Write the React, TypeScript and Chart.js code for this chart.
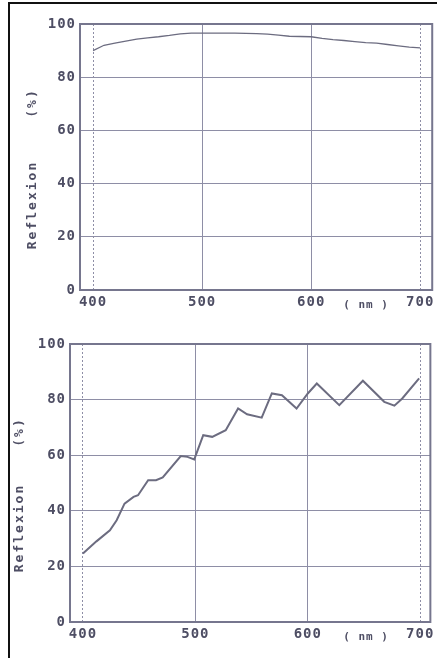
import React, { useEffect, useRef } from "react";
import { Chart, registerables } from "chart.js";

Chart.register(...registerables);

// ---- Data ----
const topWavelengths = [400, 410, 420, 430, 440, 450, 460, 470, 480, 490, 500, 510, 520, 530, 540, 550, 560, 570, 580, 590, 600, 610, 620, 630, 640, 650, 660, 670, 680, 690, 700];
const topReflexion = [90, 92, 92.8, 93.6, 94.3, 94.8, 95.2, 95.7, 96.3, 96.6, 96.6, 96.6, 96.6, 96.6, 96.5, 96.4, 96.2, 95.8, 95.4, 95.3, 95.2, 94.6, 94.1, 93.8, 93.4, 93.0, 92.8, 92.3, 91.8, 91.3, 91.0];

const bottomWavelengths = [400, 412, 424, 430, 437, 445, 449, 458, 465, 471, 487, 493, 499, 507, 515, 527, 538, 546, 559, 568, 577, 590, 600, 608, 628, 649, 668, 677, 684, 699];
const bottomReflexion = [24.6, 29, 33, 36.6, 42.6, 45, 45.6, 51, 51, 52, 59.7, 59.4, 58.5, 67.2, 66.6, 69, 76.8, 74.7, 73.5, 82.2, 81.6, 76.8, 82.2, 85.8, 78, 86.8, 79.2, 77.8, 80.4, 87.6];

const xTicks = [400, 500, 600, 700];
const yTicks = [0, 20, 40, 60, 80, 100];
const yTitle = "Reflexion";
const yUnit = "(%)";
const xUnit = "(nm)";

const TEXT = "#4e4e64";
const GRID = "#8e8ea6";
const FONT = "'DejaVu Sans Mono', monospace";

type Cfg = {
  top: number;
  height: number;
  left: number;
  plotTop: number;
  plotBottom: number;
  xs: number[];
  ys: number[];
  xMin: number;
  xMax: number;
  lineWidth: number;
  titleX: number;
  unitY: number;
  titleY: number;
};

function Panel({ cfg }: { cfg: Cfg }) {
  const ref = useRef<HTMLCanvasElement>(null);
  useEffect(() => {
    const canvas = ref.current!;
    const textPlugin = {
      id: "extraText",
      beforeDraw(chart: any) {
        (chart.ctx as any).letterSpacing = "1px";
      },
      afterDraw(chart: any) {
        const ctx = chart.ctx as CanvasRenderingContext2D;
        const a = chart.chartArea;
        ctx.save();
        // frame
        ctx.strokeStyle = "#76768e";
        ctx.lineWidth = 2;
        ctx.strokeRect(a.left, a.top, a.right - a.left, a.bottom - a.top);
        // y title
        ctx.fillStyle = TEXT;
        ctx.font = `bold 13px ${FONT}`;
        (ctx as any).letterSpacing = "2px";
        ctx.textAlign = "center";
        ctx.textBaseline = "middle";
        ctx.save();
        ctx.translate(cfg.titleX, cfg.titleY);
        ctx.rotate(-Math.PI / 2);
        ctx.fillText(yTitle, 0, 0);
        ctx.restore();
        ctx.save();
        ctx.translate(cfg.titleX, cfg.unitY);
        ctx.rotate(-Math.PI / 2);
        ctx.fillText(yUnit, 0, 0);
        ctx.restore();
        // x unit
        ctx.font = `bold 11px ${FONT}`;
        (ctx as any).letterSpacing = "1px";
        ctx.fillText(xUnit.replace("(", "( ").replace(")", " )"), 366, a.bottom + 15);
        ctx.restore();
      },
    };
    const chart = new Chart(canvas, {
      type: "line",
      data: {
        datasets: [
          {
            data: cfg.xs.map((x, i) => ({ x, y: cfg.ys[i] })),
            borderColor: "#6c6c80",
            borderWidth: cfg.lineWidth,
            pointRadius: 0,
            tension: 0,
          },
        ],
      },
      options: {
        animation: false,
        responsive: false,
        maintainAspectRatio: false,
        layout: { padding: { top: cfg.plotTop, right: 4, left: 0, bottom: 0 } },
        plugins: { legend: { display: false }, tooltip: { enabled: false } },
        scales: {
          x: {
            type: "linear",
            min: cfg.xMin,
            max: cfg.xMax,
            afterBuildTicks: (s: any) => {
              s.ticks = xTicks.map((v) => ({ value: v }));
            },
            afterFit: (s: any) => {
              s.height = cfg.height - cfg.plotBottom;
            },
            grid: {
              color: GRID,
              lineWidth: 1,
              drawTicks: false,
            },
            border: {
              display: true,
              color: "#76768e",
              width: 2,
              dash: (ctx: any) => (ctx.tick && (ctx.tick.value === 400 || ctx.tick.value === 700) ? [2, 2] : []),
            },
            ticks: {
              color: TEXT,
              font: { family: FONT, size: 14, weight: "bold" },
              padding: 4,
              maxRotation: 0,
              autoSkip: false,
            },
          },
          y: {
            type: "linear",
            min: 0,
            max: 100,
            afterBuildTicks: (s: any) => {
              s.ticks = yTicks.map((v) => ({ value: v }));
            },
            afterFit: (s: any) => {
              s.width = cfg.left;
            },
            grid: {
              color: GRID,
              lineWidth: 1,
              drawTicks: false,
            },
            border: { display: true, color: "#76768e", width: 2 },
            ticks: {
              color: TEXT,
              font: { family: FONT, size: 14, weight: "bold" },
              padding: 4,
            },
          },
        },
      },
      plugins: [textPlugin],
    } as any);
    return () => chart.destroy();
  }, [cfg]);
  return (
    <canvas
      ref={ref}
      width={437}
      height={cfg.height}
      style={{ position: "absolute", left: 0, top: cfg.top, width: 437, height: cfg.height }}
    />
  );
}

const topCfg: Cfg = {
  top: 0,
  height: 320,
  left: 80,
  plotTop: 24,
  plotBottom: 290,
  xs: topWavelengths,
  ys: topReflexion,
  xMin: 388,
  xMax: 711,
  lineWidth: 1.3,
  titleX: 33,
  unitY: 103,
  titleY: 205,
};

const bottomCfg: Cfg = {
  top: 320,
  height: 338,
  left: 70,
  plotTop: 24,
  plotBottom: 302,
  xs: bottomWavelengths,
  ys: bottomReflexion,
  xMin: 388.5,
  xMax: 709,
  lineWidth: 2,
  titleX: 20,
  unitY: 112,
  titleY: 208,
};

export default function App() {
  return (
    <div style={{ position: "fixed", left: 0, top: 0, width: 437, height: 658, background: "#fff", overflow: "hidden" }}>
      <Panel cfg={topCfg} />
      <Panel cfg={bottomCfg} />
      <div
        style={{
          position: "absolute",
          left: 8,
          top: 2,
          width: 440,
          height: 670,
          borderLeft: "2px solid #111",
          borderTop: "2px solid #111",
          pointerEvents: "none",
        }}
      />
    </div>
  );
}
